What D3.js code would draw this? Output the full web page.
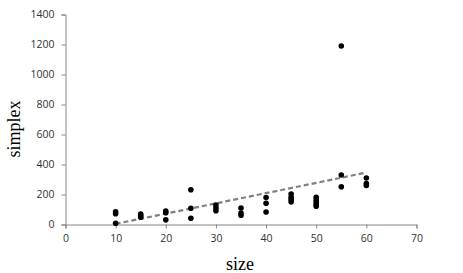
<!DOCTYPE html>
<html><head><meta charset="utf-8">
<script src="https://cdn.jsdelivr.net/npm/d3@7"></script>
<style>body{margin:0;background:#fff}svg{display:block}</style>
</head><body>
<svg id="c" width="463" height="273"></svg>
<script>
// data
const sizes = [10,10,10, 15,15,15, 20,20,20, 25,25,25, 30,30,30, 35,35,35, 40,40,40, 45,45,45,45, 50,50,50,50,50, 55,55,55, 60,60,60];
const simplex = [85,72,8, 70,60,49, 90,78,31, 232,108,42, 130,110,92, 110,76,62, 180,142,83, 203,182,166,151, 182,164,149,133,122, 1190,330,252, 310,273,260];
const trendX = [10, 60];
const trendY = [4, 346];
const xTicks = [0,10,20,30,40,50,60,70];
const yTicks = [0,200,400,600,800,1000,1200,1400];

const svg = d3.select("#c");
const x = d3.scaleLinear().domain([0,70]).range([65.5, 416.5]);
const y = d3.scaleLinear().domain([0,1400]).range([224.5, 14.5]);
const axisCol = "#868686";
const font = "'Open Sans', 'Noto Sans', sans-serif";

const gx = svg.append("g").attr("transform", `translate(0,${y(0)})`)
  .call(d3.axisBottom(x).tickValues(xTicks).tickFormat(d3.format("d")).tickSize(4).tickPadding(6));
const gy = svg.append("g").attr("transform", `translate(${x(0)},0)`)
  .call(d3.axisLeft(y).tickValues(yTicks).tickFormat(d3.format("d")).tickSize(4).tickPadding(7));
[gx, gy].forEach(g => {
  g.selectAll("path,line").attr("stroke", axisCol);
  g.selectAll("text").attr("fill", "#333").style("font-family", font).style("font-size", "10.5px");
});

// trend line
svg.append("path")
  .attr("d", d3.line().x(d => x(d[0])).y(d => y(d[1]))(trendX.map((v,i)=>[v,trendY[i]])))
  .attr("fill","none").attr("stroke","#808080").attr("stroke-width",2.2)
  .attr("stroke-dasharray","5,3");

// points
svg.append("g").selectAll("circle").data(sizes.map((s,i)=>[s,simplex[i]])).join("circle")
  .attr("cx", d => x(d[0])).attr("cy", d => y(d[1])).attr("r", 2.8).attr("fill", "#000");

// axis titles
svg.append("text").attr("x", 240).attr("y", 270).attr("text-anchor","middle")
  .style("font-family","'Liberation Serif','Times New Roman',serif").style("font-size","18px").text("size");
svg.append("text").attr("transform","translate(20,129) rotate(-90)").attr("text-anchor","middle")
  .style("font-family","'Liberation Serif','Times New Roman',serif").style("font-size","18px").text("simplex");
</script>
</body></html>
